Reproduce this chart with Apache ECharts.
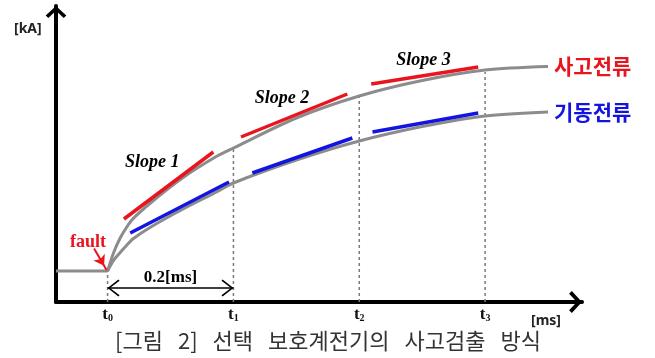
<!DOCTYPE html>
<html><head><meta charset="utf-8">
<script src="https://cdn.jsdelivr.net/npm/echarts@6/dist/echarts.min.js"></script>
<style>html,body{margin:0;padding:0;background:#fff}#c{width:655px;height:358px}</style>
</head><body><div id="c"></div>
<script>
// time axis in ms (t0 = fault instant)
const timeMs = [0, 0.01, 0.02, 0.03, 0.04, 0.07, 0.12, 0.17, 0.2, 0.3, 0.4, 0.5, 0.6, 0.7];
const faultCurrent = [0.31, 0.50, 0.64, 0.745, 0.83, 1.0, 1.245, 1.445, 1.54, 1.84, 2.06, 2.215, 2.32, 2.355];
const startCurrent = [0.31, 0.42, 0.495, 0.565, 0.63, 0.755, 0.93, 1.09, 1.19, 1.42, 1.61, 1.755, 1.86, 1.9];
const preFaultTime = [-0.082, 0];
const preFaultCurrent = [0.31, 0.31];
const tickTimes = [0, 0.2, 0.4, 0.6];
const tickSubs = ['0', '1', '2', '3'];
const dashTop = [0.31, 1.54, 2.06, 2.30];
const redSlopeStart = [[0.026, 0.83], [0.212, 1.65], [0.419, 2.18]];
const redSlopeEnd = [[0.168, 1.50], [0.381, 2.08], [0.589, 2.35]];
const blueSlopeStart = [[0.036, 0.69], [0.230, 1.29], [0.421, 1.70]];
const blueSlopeEnd = [[0.193, 1.20], [0.389, 1.64], [0.589, 1.89]];
const slopeNames = ['Slope 1', 'Slope 2', 'Slope 3'];
const slopeLabelPos = [[0.071, 1.40], [0.277, 2.04], [0.502, 2.42]];
const seriesNames = ['사고전류', '기동전류'];
const faultText = 'fault';
const faultTextPos = [-0.031, 0.60];
const faultArrowFrom = [-0.0215, 0.535];
const faultArrowTo = [-0.0016, 0.32];
const spanArrow = [[0, 0.14], [0.2, 0.14]];
const spanText = '0.2[ms]';
const caption = '[그림{sp| }2]{sp| }선택{sp| }보호계전기의{sp| }사고검출{sp| }방식';

const RED = '#e8141e', BLUE = '#1414e0', GRAY = '#8c8c8c';
const bigChevron = 'path://M12,0 L24,11 L21,14 L12,5.5 L3,14 L0,11 Z';
const thinChevron = 'path://M8.5,0 L17,10.8 L15.8,12 L8.5,2.4 L1.2,12 L0,10.8 Z';
const serif = '"Liberation Serif","Times New Roman",serif';

const zip = (xs, ys) => xs.map((x, i) => [x, ys[i]]);

const series = [];
series.push({
  type: 'line', data: zip(preFaultTime, preFaultCurrent), symbol: 'none', silent: true,
  lineStyle: { color: GRAY, width: 3 }, z: 3
});
[faultCurrent, startCurrent].forEach((vals, k) => {
  series.push({
    type: 'line', name: seriesNames[k], data: zip(timeMs, vals), symbol: 'none', silent: true,
    smooth: 0.3,
    lineStyle: { color: GRAY, width: 3 }, z: 3,
    endLabel: {
      show: true, formatter: seriesNames[k], color: k === 0 ? RED : BLUE,
      fontSize: 21, fontWeight: 'bold', fontFamily: '"Noto Sans CJK KR",sans-serif', distance: 6
    }
  });
});
redSlopeStart.forEach((p, i) => series.push({
  type: 'line', data: [p, redSlopeEnd[i]], symbol: 'none', silent: true,
  lineStyle: { color: RED, width: 3.5 }, z: 4
}));
blueSlopeStart.forEach((p, i) => series.push({
  type: 'line', data: [p, blueSlopeEnd[i]], symbol: 'none', silent: true,
  lineStyle: { color: BLUE, width: 3.5 }, z: 4
}));
tickTimes.forEach((t, i) => series.push({
  type: 'line', data: [[t, 0], [t, dashTop[i]]], symbol: 'none', silent: true,
  lineStyle: { color: '#7a7a7a', width: 1.5, type: [3, 3] }, z: 2
}));
// annotations
series.push({
  type: 'scatter', silent: true, symbolSize: 1, itemStyle: { color: 'transparent', opacity: 1 }, z: 6,
  data: slopeNames.map((n, i) => ({ name: n, value: slopeLabelPos[i] }))
    .concat([{ name: faultText, value: faultTextPos, label: { color: RED, fontSize: 18, fontStyle: 'normal' } }]),
  label: {
    show: true, position: 'inside', formatter: p => p.name,
    fontFamily: serif, fontWeight: 'bold', fontStyle: 'italic', fontSize: 18, color: '#000'
  },
  markLine: {
    silent: true, animation: false,
    data: [
      [{ coord: spanArrow[0], symbol: thinChevron, symbolSize: [17, 12], symbolOffset: [0, 6],
         lineStyle: { color: '#000', width: 1.5, type: 'solid' },
         label: { show: true, position: 'middle', formatter: spanText, fontFamily: serif,
                  fontWeight: 'bold', fontSize: 17, color: '#000', distance: 2 } },
       { coord: spanArrow[1], symbol: thinChevron, symbolSize: [17, 12], symbolOffset: [0, 6] }],
      [{ coord: faultArrowFrom, symbol: 'none',
         lineStyle: { color: RED, width: 2, type: 'solid', curveness: 0.12 }, label: { show: false } },
       { coord: faultArrowTo, symbol: 'arrow', symbolSize: [10, 10], symbolOffset: [0, 5] }]
    ]
  }
});

const chart = echarts.init(document.getElementById('c'), null, { renderer: 'canvas' });
chart.setOption({
  animation: false,
  backgroundColor: '#fff',
  title: {
    text: caption, left: 115, top: 330, padding: 0,
    textStyle: { fontFamily: '"Noto Sans CJK KR",sans-serif', fontSize: 22, fontWeight: 'normal',
                 color: '#333', rich: { sp: { width: 15 } } }
  },
  grid: { left: 56, right: 73, top: 6, bottom: 56, containLabel: false },
  xAxis: {
    type: 'value', min: -0.082, max: 0.754,
    splitLine: { show: false }, axisTick: { show: false },
    axisLine: { onZero: false, lineStyle: { color: '#000', width: 4 },
                symbol: ['none', bigChevron], symbolSize: [22, 13], symbolOffset: [0, -6.5] },
    axisLabel: {
      customValues: tickTimes, margin: 4, color: '#111',
      formatter: v => {
        let i = 0; tickTimes.forEach((t, k) => { if (Math.abs(t - v) < Math.abs(tickTimes[i] - v)) i = k; });
        return '{t|t}{s|' + tickSubs[i] + '}';
      },
      rich: {
        t: { fontFamily: serif, fontWeight: 'bold', fontSize: 17, color: '#111' },
        s: { fontFamily: serif, fontWeight: 'bold', fontSize: 10, color: '#111', verticalAlign: 'bottom', padding: [4, 0, 0, 0] }
      }
    }
  },
  yAxis: {
    type: 'value', min: 0, max: 2.96,
    splitLine: { show: false }, axisTick: { show: false }, axisLabel: { show: false },
    axisLine: { onZero: false, lineStyle: { color: '#000', width: 4 },
                symbol: ['none', bigChevron], symbolSize: [23, 12], symbolOffset: [0, -6] }
  },
  graphic: [
    { type: 'text', left: 14, top: 22, silent: true,
      style: { text: '[kA]', font: 'bold 14px "Noto Sans",sans-serif', fill: '#222' } },
    { type: 'text', left: 531, top: 314, silent: true,
      style: { text: '[ms]', font: 'bold 14px "Noto Sans",sans-serif', fill: '#222' } }
  ],
  series: series
});
</script>
</body></html>
